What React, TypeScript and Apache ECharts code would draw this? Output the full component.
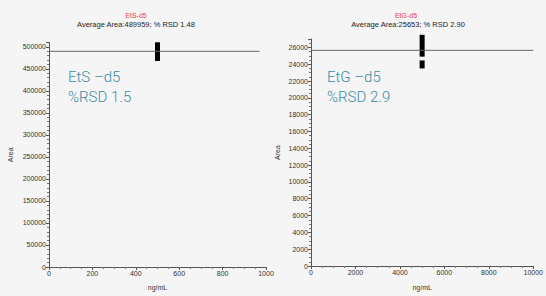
import React, { useEffect, useRef } from "react";
import * as echarts from "echarts";

const etsTitle = "EtS-d5";
const etsSubtitle = "Average Area:489959; % RSD 1.48";
const etgTitle = "EtG-d5";
const etgSubtitle = "Average Area:25653; % RSD 2.90";

const etsMean = 489959;
const etsMeanSpan = [0, 970];
const etgMean = 25653;
const etgMeanSpan = [0, 10000];

// [x, low, high]
const etsBars = [[500, 468000, 510500]];
const etgBars = [
  [5000, 24900, 27500],
  [5000, 23500, 24450],
];

const etsLabel = ["EtS \u2013d5", "%RSD 1.5"];
const etgLabel = ["EtG \u2013d5", "%RSD 2.9"];

const FONT = "'Liberation Sans', Arial, sans-serif";

export default function App() {
  const ref = useRef<HTMLDivElement>(null);
  useEffect(() => {
    if (!ref.current) return;
    const chart = echarts.init(ref.current, null, { renderer: "svg" });
    const axisCommon = {
      axisLine: { show: true, lineStyle: { color: "#555", width: 1 } },
      axisTick: { show: true, length: 3, lineStyle: { color: "#555" } },
      minorTick: { show: true, splitNumber: 5, length: 2, lineStyle: { color: "#777" } },
      axisLabel: {
        fontSize: 7,
        color: "#333",
        fontFamily: FONT,
        margin: 3,
        formatter: (v: number) => String(v),
      },
      splitLine: { show: false },
      nameTextStyle: { fontSize: 7, color: "#333", fontFamily: FONT },
    };
    const renderBar = (params: any, api: any) => {
      const x = api.value(0);
      const p1 = api.coord([x, api.value(2)]);
      const p2 = api.coord([x, api.value(1)]);
      return {
        type: "rect",
        shape: { x: p1[0] - 2.5, y: p1[1], width: 5, height: p2[1] - p1[1] },
        style: { fill: "#000" },
      };
    };
    chart.setOption({
      animation: false,
      backgroundColor: "#f5f5f5",
      grid: [
        { left: 49, top: 42.5, width: 217, height: 230.5 },
        { left: 311, top: 39, width: 230.5, height: 234.3 },
      ],
      xAxis: [
        {
          ...axisCommon,
          gridIndex: 0,
          type: "value",
          min: 0,
          max: 1000,
          interval: 200,
          minorTick: { ...axisCommon.minorTick, splitNumber: 4 },
          name: "ng/mL",
          nameLocation: "middle",
          nameGap: 17,
        },
        {
          ...axisCommon,
          gridIndex: 1,
          type: "value",
          min: 0,
          max: 10000,
          interval: 2000,
          minorTick: { ...axisCommon.minorTick, splitNumber: 4 },
          name: "ng/mL",
          nameLocation: "middle",
          nameGap: 18,
        },
      ],
      yAxis: [
        {
          ...axisCommon,
          gridIndex: 0,
          type: "value",
          min: 0,
          max: 510000,
          interval: 50000,
          axisLabel: { ...axisCommon.axisLabel, showMaxLabel: false },
          minorTick: { ...axisCommon.minorTick, splitNumber: 5 },
          name: "Area",
          nameLocation: "middle",
          nameRotate: 90,
          nameGap: 35,
        },
        {
          ...axisCommon,
          gridIndex: 1,
          type: "value",
          min: 0,
          max: 27000,
          interval: 2000,
          axisLabel: { ...axisCommon.axisLabel, showMaxLabel: false },
          minorTick: { ...axisCommon.minorTick, splitNumber: 4 },
          name: "Area",
          nameLocation: "middle",
          nameRotate: 90,
          nameGap: 30,
        },
      ],
      series: [
        {
          type: "line",
          xAxisIndex: 0,
          yAxisIndex: 0,
          data: etsMeanSpan.map((x) => [x, etsMean]),
          symbol: "none",
          lineStyle: { color: "#666", width: 1 },
        },
        {
          type: "line",
          xAxisIndex: 1,
          yAxisIndex: 1,
          data: etgMeanSpan.map((x) => [x, etgMean]),
          symbol: "none",
          lineStyle: { color: "#666", width: 1 },
        },
        {
          type: "custom",
          xAxisIndex: 0,
          yAxisIndex: 0,
          clip: false,
          data: etsBars,
          renderItem: renderBar,
        },
        {
          type: "custom",
          xAxisIndex: 1,
          yAxisIndex: 1,
          clip: false,
          data: etgBars,
          renderItem: renderBar,
        },
      ],
      graphic: [
        { type: "text", x: 136, y: 15, style: { text: etsTitle, fill: "#f03c3c", fontSize: 7, fontFamily: FONT, align: "center", verticalAlign: "middle" } },
        { type: "text", x: 136, y: 24, style: { text: etsSubtitle, fill: "#222", fontSize: 7.5, fontFamily: FONT, align: "center", verticalAlign: "middle" } },
        { type: "text", x: 406, y: 15, style: { text: etgTitle, fill: "#f03c3c", fontSize: 7, fontFamily: FONT, align: "center", verticalAlign: "middle" } },
        { type: "text", x: 408, y: 24, style: { text: etgSubtitle, fill: "#222", fontSize: 7.5, fontFamily: FONT, align: "center", verticalAlign: "middle" } },
        { type: "text", x: 68, y: 77, style: { text: etsLabel[0], fill: "#3a8ba3", fontSize: 15, fontFamily: "Roboto, sans-serif", fontWeight: 300, verticalAlign: "middle" } },
        { type: "text", x: 68, y: 97, style: { text: etsLabel[1], fill: "#3a8ba3", fontSize: 15, fontFamily: "Roboto, sans-serif", fontWeight: 300, verticalAlign: "middle" } },
        { type: "text", x: 327, y: 77, style: { text: etgLabel[0], fill: "#3a8ba3", fontSize: 15, fontFamily: "Roboto, sans-serif", fontWeight: 300, verticalAlign: "middle" } },
        { type: "text", x: 327, y: 97, style: { text: etgLabel[1], fill: "#3a8ba3", fontSize: 15, fontFamily: "Roboto, sans-serif", fontWeight: 300, verticalAlign: "middle" } },
      ],
    });
    return () => chart.dispose();
  }, []);
  return (
    <div
      ref={ref}
      style={{ position: "fixed", left: 0, top: 0, width: 546, height: 296 }}
    />
  );
}
